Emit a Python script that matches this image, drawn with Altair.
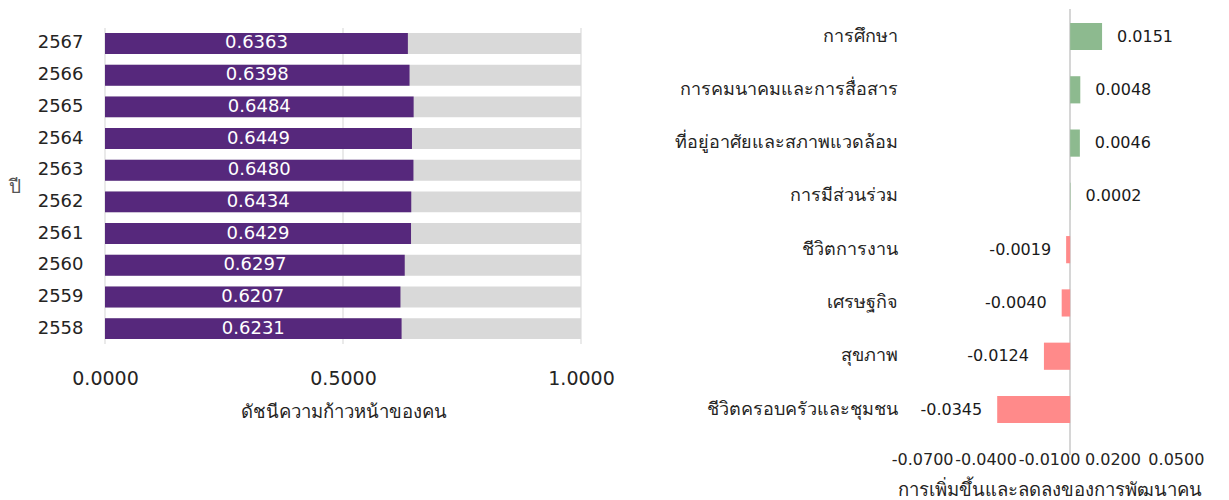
import altair as alt
import pandas as pd

# ---- data ----
years = ["2567", "2566", "2565", "2564", "2563", "2562", "2561", "2560", "2559", "2558"]
hdi_values = [0.6363, 0.6398, 0.6484, 0.6449, 0.6480, 0.6434, 0.6429, 0.6297, 0.6207, 0.6231]
hdi_max = 1.0
hdi_ticks = [0.0, 0.5, 1.0]

categories = [
    "การศึกษา",
    "การคมนาคมและการสื่อสาร",
    "ที่อยู่อาศัยและสภาพแวดล้อม",
    "การมีส่วนร่วม",
    "ชีวิตการงาน",
    "เศรษฐกิจ",
    "สุขภาพ",
    "ชีวิตครอบครัวและชุมชน",
]
changes = [0.0151, 0.0048, 0.0046, 0.0002, -0.0019, -0.0040, -0.0124, -0.0345]
change_ticks = [-0.07, -0.04, -0.01, 0.02, 0.05]
change_domain = [-0.08, 0.06]

FONT = "DejaVu Sans"
TXT = "#252423"
FMT = "replace(format(datum.value, '.4f'), '\u2212', '-')"

left_df = pd.DataFrame({"year": years, "value": hdi_values, "full": [hdi_max] * len(years)})
grid_df = pd.DataFrame({"tick": hdi_ticks})
right_df = pd.DataFrame({"cat": categories, "value": changes})

# ---- left chart ----
LH = 335
ybase = alt.Y(
    "year:N",
    sort=years,
    scale=alt.Scale(paddingInner=0.34, paddingOuter=0.457, align=0.83),
    axis=alt.Axis(
        title="ปี", titleFontSize=19, titleFontWeight="normal", titleColor="#555555",
        titleAngle=0, titleAlign="center", titleBaseline="middle", titleX=-91, titleY=177,
        labelFontSize=18, labelColor=TXT, labelPadding=22,
        ticks=False, domain=False,
    ),
)
xbase = alt.X(
    "full:Q",
    scale=alt.Scale(domain=[0, hdi_max]),
    axis=alt.Axis(
        values=hdi_ticks, format=".4f", title="ดัชนีความก้าวหน้าของคน",
        titleFontSize=18.5, titleFontWeight="normal", titleColor=TXT, titlePadding=14,
        labelFontSize=19, labelColor=TXT, labelPadding=25, labelFlush=False,
        ticks=False, domain=False, grid=False,
    ),
)

grid = alt.Chart(grid_df).mark_rule(color="#E3E3E3", strokeWidth=1.5).encode(
    x=alt.X("tick:Q"), y=alt.value(19), y2=alt.value(LH)
)
left_base = alt.Chart(left_df)
bg = left_base.mark_bar(color="#D9D9D9").encode(y=ybase, x=xbase)
fg = left_base.mark_bar(color="#56287C").encode(y=alt.Y("year:N", sort=years), x=alt.X("value:Q"))
lbl = left_base.transform_calculate(mid="datum.value / 2").mark_text(
    color="white", fontSize=18, font=FONT
).encode(y=alt.Y("year:N", sort=years), x=alt.X("mid:Q"), text=alt.Text("value:Q", format=".4f"))

left = alt.layer(grid, bg, fg, lbl).properties(width=476, height=LH)

# ---- right chart ----
RH = 430
ry = alt.Y(
    "cat:N",
    sort=categories,
    scale=alt.Scale(paddingInner=0.49, paddingOuter=0.28, align=0.467),
    axis=alt.Axis(
        title=None, labelFontSize=18, labelColor=TXT, labelPadding=4,
        ticks=False, domain=False, labelLimit=400,
    ),
)
rx = alt.X(
    "value:Q",
    scale=alt.Scale(domain=change_domain),
    axis=alt.Axis(
        values=change_ticks, labelExpr=FMT, title="การเพิ่มขึ้นและลดลงของการพัฒนาคน",
        titleFontSize=18.5, titleFontWeight="normal", titleColor=TXT, titlePadding=13,
        labelFontSize=16, labelColor=TXT, labelPadding=12, labelFlush=False,
        labelOverlap=False, ticks=False, domain=False, grid=False,
    ),
)

right_base = alt.Chart(right_df)
zero = right_base.mark_rule(color="#D6D6D6", strokeWidth=1.5).encode(
    x=alt.datum(0), y=alt.value(0), y2=alt.value(446)
)
bars = right_base.mark_bar().encode(
    y=ry, x=rx,
    color=alt.condition("datum.value >= 0", alt.value("#8DBA8F"), alt.value("#FF8A8A")),
)
pos_lbl = right_base.transform_filter("datum.value >= 0").transform_calculate(lab=FMT).mark_text(
    align="left", dx=15, fontSize=16, color="#1A1A1A", font=FONT
).encode(y=alt.Y("cat:N", sort=categories), x="value:Q", text="lab:N")
neg_lbl = right_base.transform_filter("datum.value < 0").transform_calculate(lab=FMT).mark_text(
    align="right", dx=-15, fontSize=16, color="#1A1A1A", font=FONT
).encode(y=alt.Y("cat:N", sort=categories), x="value:Q", text="lab:N")

right = alt.layer(zero, bars, pos_lbl, neg_lbl).properties(width=296, height=RH)

chart = (
    alt.hconcat(left, right, spacing=59)
    .properties(padding=0)
    .configure(font=FONT)
    .configure_view(stroke=None)
)

chart.save("out.html", embed_options={"renderer": "svg", "actions": False})
